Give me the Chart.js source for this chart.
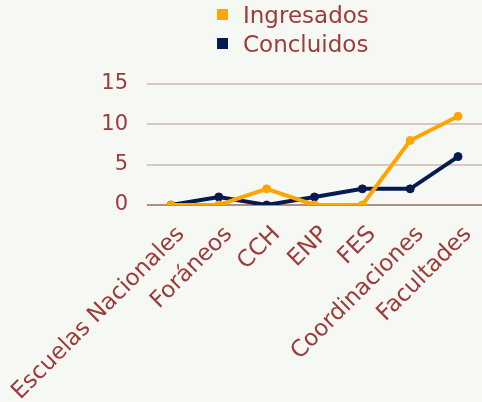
<!DOCTYPE html>
<html>
<head>
<meta charset="utf-8">
<script src="https://cdn.jsdelivr.net/npm/chart.js@4"></script>
<style>
  body { margin: 0; background: #f6f8f3; }
  #wrap { position: relative; width: 482px; height: 402px; }
  #legend { position: absolute; left: 217px; top: 0px; font-family: "DejaVu Sans", sans-serif; font-size: 23px; color: #9c3b3b; }
  .item { display: flex; align-items: center; height: 29px; }
  .box { width: 11px; height: 11px; margin-right: 15px; }
</style>
</head>
<body>
<div id="wrap">
  <div id="legend"></div>
  <canvas id="myChart" width="482" height="402"></canvas>
</div>
<script>
// datos de la grafica
const categorias = ["Escuelas Nacionales", "Foráneos", "CCH", "ENP", "FES", "Coordinaciones", "Facultades"]
const ingresados = [0, 0, 2, 0, 0, 8, 11]
const concluidos = [0, 1, 0, 1, 2, 2, 6]
const ticksY = [0, 5, 10, 15]

const textColor = "#9c3b3b"

const ctx = document.getElementById("myChart").getContext("2d")
const myChart = new Chart(ctx, {
  type: "line",
  data: {
    labels: categorias,
    datasets: [
      { label: "Ingresados", data: ingresados, borderColor: "#ffa500", backgroundColor: "#ffa500", borderWidth: 4, pointRadius: 4, pointBorderWidth: 1, pointHoverRadius: 4, tension: 0 },
      { label: "Concluidos", data: concluidos, borderColor: "#061a52", backgroundColor: "#061a52", borderWidth: 4, pointRadius: 4, pointBorderWidth: 1, pointHoverRadius: 4, tension: 0 }
    ]
  },
  options: {
    responsive: false,
    animation: false,
    layout: { autoPadding: false, padding: { top: 84, right: 0, left: 0, bottom: 0 } },
    plugins: { legend: { display: false }, tooltip: { enabled: false } },
    scales: {
      x: {
        offset: true,
        grid: { display: false },
        border: { display: false },
        ticks: { color: textColor, font: { family: "DejaVu Sans", size: 23 }, minRotation: 45, maxRotation: 45, padding: 8, labelOffset: 10 },
        afterFit: s => {
          s.height = 402 - 205
          s.paddingLeft = 0
          s.paddingRight = 0
        }
      },
      y: {
        min: ticksY[0],
        max: ticksY[ticksY.length - 1],
        afterBuildTicks: s => { s.ticks = ticksY.map(v => ({ value: v })) },
        grid: {
          drawTicks: false,
          lineWidth: 2,
          color: c => c.tick && c.tick.value === 0 ? "#b98a86" : "#dcc6c2"
        },
        border: { display: false },
        ticks: { color: textColor, font: { family: "DejaVu Sans", size: 21 }, padding: 19 },
        afterFit: s => { s.width = 147 }
      }
    }
  }
})

// leyenda en html, apilada como en la imagen
const legend = document.getElementById("legend")
myChart.data.datasets.forEach(ds => {
  const item = document.createElement("div")
  item.className = "item"
  item.innerHTML = '<span class="box" style="background:' + ds.backgroundColor + '"></span>' + ds.label
  legend.appendChild(item)
})
</script>
</body>
</html>
